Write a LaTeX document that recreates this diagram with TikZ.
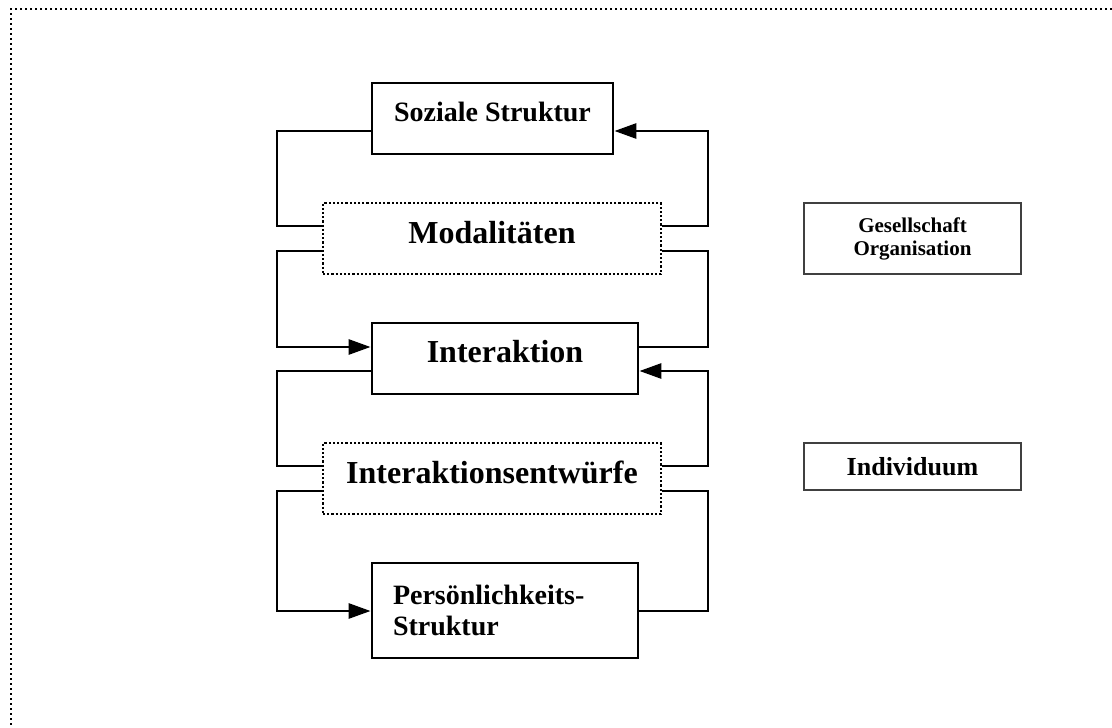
\documentclass[tikz,border=0pt]{standalone}
\usepackage{fontspec}
\setmainfont{Liberation Serif}
\usetikzlibrary{arrows.meta}
\begin{document}
\begin{tikzpicture}[x=1pt,y=-1pt,
  box/.style={draw, line width=2.8pt, rectangle, inner sep=0pt, font=\bfseries},
  dotbox/.style={draw, line width=2.2pt, dash pattern=on 2.2pt off 2pt, rectangle, inner sep=0pt, font=\bfseries},
  sidebox/.style={draw=black!75, line width=1.4pt, rectangle, inner sep=0pt, font=\bfseries},
  link/.style={line width=2.8pt},
  arr/.style={link, -{Triangle[length=22pt,width=15pt]}},
  frame/.style={line width=2pt, dash pattern=on 2pt off 3pt}
]
\useasboundingbox (0,0) rectangle (1112,728);

% outer frame
\coordinate (ftr) at (1112,9);
\coordinate (ftl) at (11,9);
\coordinate (fbl) at (11,728);
\draw[frame] (ftr) -- (ftl) -- (fbl);

% main chain
\node[box, minimum width=241pt, minimum height=71pt, text height=6.4pt, text depth=0pt,
      font=\bfseries\fontsize{28}{30}\selectfont] (soz) at (492.5,118.5) {Soziale Struktur};
\node[dotbox, minimum width=338pt, minimum height=71pt, text height=10pt, text depth=0pt,
      font=\bfseries\fontsize{32}{34}\selectfont] (mod) at (492,238.5) {Modalitäten};
\node[box, minimum width=266pt, minimum height=71pt, text height=8.5pt, text depth=0pt,
      font=\bfseries\fontsize{32}{34}\selectfont] (inter) at (505,358.5) {Interaktion};
\node[dotbox, minimum width=338pt, minimum height=71pt, text height=10pt, text depth=0pt,
      font=\bfseries\fontsize{32}{34}\selectfont] (entw) at (492,478.5) {Interaktionsentwürfe};
\node[box, minimum width=266pt, minimum height=95pt, text width=224pt, inner xsep=21pt, align=left,
      font=\bfseries\fontsize{28}{31.3}\selectfont] (pers) at (505,610.5) {Persönlichkeits-\\Struktur};

% side labels
\node[sidebox, minimum width=217pt, minimum height=71pt, align=center,
      font=\bfseries\fontsize{21}{23}\selectfont] (ges) at (912.5,238.5) {Gesellschaft\\Organisation};
\node[sidebox, minimum width=217pt, minimum height=47pt, text height=17pt, text depth=0pt,
      font=\bfseries\fontsize{26}{28}\selectfont] (ind) at (912.5,466.5) {Individuum};

% loop columns
\coordinate (a1) at (277,131);  \coordinate (b1) at (708,131);
\coordinate (a2) at (277,226);  \coordinate (b2) at (708,226);
\coordinate (a3) at (277,251);  \coordinate (b3) at (708,251);
\coordinate (a4) at (277,347);  \coordinate (b4) at (708,347);
\coordinate (a5) at (277,371);  \coordinate (b5) at (708,371);
\coordinate (a6) at (277,466);  \coordinate (b6) at (708,466);
\coordinate (a7) at (277,491);  \coordinate (b7) at (708,491);
\coordinate (a8) at (277,611);  \coordinate (b8) at (708,611);

% Soziale Struktur <-> Modalitaeten
\draw[link] (soz.west |- a1) -- (a1) -- (a2) -- (mod.west |- a2);
\draw[arr] (mod.east |- b2) -- (b2) -- (b1) -- (soz.east |- b1);
% Modalitaeten <-> Interaktion
\draw[arr] (mod.west |- a3) -- (a3) -- (a4) -- (inter.west |- a4);
\draw[link] (mod.east |- b3) -- (b3) -- (b4) -- (inter.east |- b4);
% Interaktion <-> Interaktionsentwuerfe
\draw[link] (inter.west |- a5) -- (a5) -- (a6) -- (entw.west |- a6);
\draw[arr] (entw.east |- b6) -- (b6) -- (b5) -- (inter.east |- b5);
% Interaktionsentwuerfe <-> Persoenlichkeits-Struktur
\draw[arr] (entw.west |- a7) -- (a7) -- (a8) -- (pers.west |- a8);
\draw[link] (entw.east |- b7) -- (b7) -- (b8) -- (pers.east |- b8);
\end{tikzpicture}
\end{document}
